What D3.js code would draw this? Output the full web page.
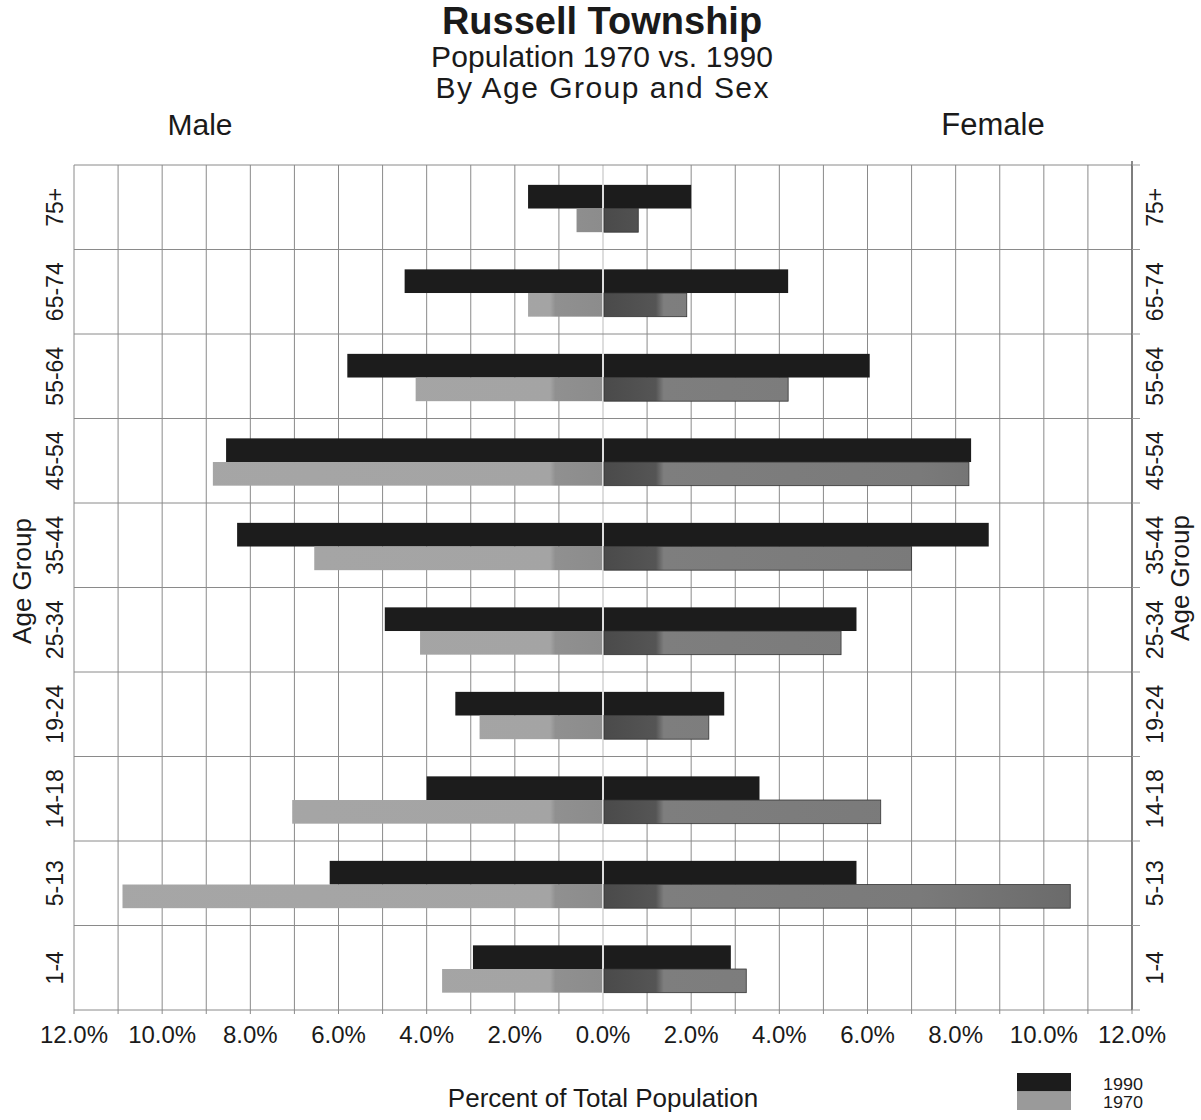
<!DOCTYPE html>
<html>
<head>
<meta charset="utf-8">
<script src="https://cdn.jsdelivr.net/npm/d3@7"></script>
<style>
  body { margin: 0; background: #fff; }
  text { font-family: "Liberation Sans", Arial, sans-serif; fill: #1a1a1a; }
</style>
</head>
<body>
<div id="chart"></div>
<script>
// age groups, top to bottom
var ages = ["75+", "65-74", "55-64", "45-54", "35-44", "25-34", "19-24", "14-18", "5-13", "1-4"];
// percent of total population
var male1990   = [1.7, 4.5, 5.8, 8.55, 8.3, 4.95, 3.35, 4.0, 6.2, 2.95];
var female1990 = [2.0, 4.2, 6.05, 8.35, 8.75, 5.75, 2.75, 3.55, 5.75, 2.9];
var male1970   = [0.6, 1.7, 4.25, 8.85, 6.55, 4.15, 2.8, 7.05, 10.9, 3.65];
var female1970 = [0.8, 1.9, 4.2, 8.3, 7.0, 5.4, 2.4, 6.3, 10.6, 3.25];
var tickValues = [-12, -10, -8, -6, -4, -2, 0, 2, 4, 6, 8, 10, 12];
var years = ["1990", "1970"];

var width = 1201, height = 1120;
var plot = {left: 74, right: 1132, top: 165, bottom: 1010};

var svg = d3.select("#chart").append("svg")
  .attr("width", width)
  .attr("height", height);

var x = d3.scaleLinear().domain([-12, 12]).range([plot.left, plot.right]);
var y = d3.scaleBand().domain(ages).range([plot.top, plot.bottom]);
// the two bars sit in the middle of each band
var sub = d3.scaleBand().domain(years).range([y.bandwidth() * 0.235, y.bandwidth() * 0.795]);

// halftone-ish fills for the 1970 bars (darker near the centre line)
var defs = svg.append("defs");
function grad(id, x1, x2, stops) {
  var g = defs.append("linearGradient")
    .attr("id", id)
    .attr("gradientUnits", "userSpaceOnUse")
    .attr("x1", x1).attr("x2", x2).attr("y1", 0).attr("y2", 0);
  stops.forEach(function(s) {
    g.append("stop").attr("offset", s[0]).attr("stop-color", s[1]);
  });
}
grad("m70", x(0), x(-12), [[0, "#8c8c8c"], [0.09, "#909090"], [0.1, "#a4a4a4"], [1, "#a6a6a6"]]);
grad("f70", x(0), x(12), [[0, "#4a4a4a"], [0.1, "#555"], [0.115, "#7e7e7e"], [0.6, "#7a7a7a"], [0.9, "#6a6a6a"], [1, "#5a5a5a"]]);

// grid
var grid = svg.append("g").attr("class", "grid");
grid.selectAll("line.v")
  .data(d3.range(-12, 13))
  .enter().append("line")
  .attr("class", "v")
  .attr("x1", function(d) { return x(d); })
  .attr("x2", function(d) { return x(d); })
  .attr("y1", plot.top)
  .attr("y2", function(d) { return plot.bottom + 4; })
  .attr("stroke", function(d) { return d === 0 ? "#bbb" : "#8a8a8a"; })
  .attr("stroke-width", 1);

grid.selectAll("line.h")
  .data(ages.map(function(a) { return y(a); }).concat([plot.bottom]))
  .enter().append("line")
  .attr("class", "h")
  .attr("x1", plot.left)
  .attr("x2", plot.right)
  .attr("y1", function(d) { return d; })
  .attr("y2", function(d) { return d; })
  .attr("stroke", "#8a8a8a")
  .attr("stroke-width", 1);

// right edge and its little ticks
svg.append("line")
  .attr("x1", plot.right).attr("x2", plot.right)
  .attr("y1", plot.top - 4).attr("y2", plot.bottom)
  .attr("stroke", "#666").attr("stroke-width", 1.5);
svg.selectAll("line.rt")
  .data(ages.map(function(a) { return y(a); }).concat([plot.bottom]))
  .enter().append("line")
  .attr("class", "rt")
  .attr("x1", plot.right).attr("x2", plot.right + 8)
  .attr("y1", function(d) { return d; })
  .attr("y2", function(d) { return d; })
  .attr("stroke", "#999");

// bars
var bars = svg.append("g").attr("class", "bars");
var series = [
  {vals: male1990, year: "1990", side: -1, fill: "#1c1c1c", stroke: "none"},
  {vals: female1990, year: "1990", side: 1, fill: "#1c1c1c", stroke: "none"},
  {vals: male1970, year: "1970", side: -1, fill: "url(#m70)", stroke: "none"},
  {vals: female1970, year: "1970", side: 1, fill: "url(#f70)", stroke: "#333"}
];
series.forEach(function(s) {
  bars.selectAll(null)
    .data(s.vals)
    .enter().append("rect")
    .attr("x", function(d) { return s.side < 0 ? x(-d) : x(0) + 1; })
    .attr("width", function(d) { return s.side < 0 ? x(0) - 1 - x(-d) : x(d) - x(0) - 1; })
    .attr("y", function(d, i) { return y(ages[i]) + sub(s.year); })
    .attr("height", sub.bandwidth())
    .attr("fill", s.fill)
    .attr("stroke", s.stroke)
    .attr("stroke-width", 0.8);
});

// x tick labels
svg.append("g").selectAll("text")
  .data(tickValues)
  .enter().append("text")
  .attr("x", function(d) { return x(d); })
  .attr("y", 1043)
  .attr("text-anchor", "middle")
  .attr("font-size", 24)
  .text(function(d) { return Math.abs(d).toFixed(1) + "%"; });

// age labels, both sides, rotated
[63, 1163].forEach(function(bx) {
  svg.append("g").selectAll("text")
    .data(ages)
    .enter().append("text")
    .attr("transform", function(d) {
      return "translate(" + bx + "," + (y(d) + y.bandwidth() / 2) + ") rotate(-90)";
    })
    .attr("text-anchor", "middle")
    .attr("font-size", 23)
    .text(function(d) { return d; });
});

// axis titles
svg.append("text")
  .attr("transform", "translate(31,581) rotate(-90)")
  .attr("text-anchor", "middle")
  .attr("font-size", 26)
  .text("Age Group");
svg.append("text")
  .attr("transform", "translate(1189,578) rotate(-90)")
  .attr("text-anchor", "middle")
  .attr("font-size", 26)
  .text("Age Group");

svg.append("text")
  .attr("x", 603).attr("y", 1107)
  .attr("text-anchor", "middle")
  .attr("font-size", 26)
  .text("Percent of Total Population");

// titles
svg.append("text")
  .attr("x", 602).attr("y", 34)
  .attr("text-anchor", "middle")
  .attr("font-size", 38)
  .attr("font-weight", "bold")
  .text("Russell Township");
svg.append("text")
  .attr("x", 602).attr("y", 67)
  .attr("text-anchor", "middle")
  .attr("font-size", 30)
  .attr("textLength", 342)
  .attr("lengthAdjust", "spacing")
  .text("Population 1970 vs. 1990");
svg.append("text")
  .attr("x", 602).attr("y", 98)
  .attr("text-anchor", "middle")
  .attr("font-size", 30)
  .attr("textLength", 333)
  .attr("lengthAdjust", "spacing")
  .text("By Age Group and Sex");

svg.append("text")
  .attr("x", 200).attr("y", 135)
  .attr("text-anchor", "middle")
  .attr("font-size", 30)
  .text("Male");
svg.append("text")
  .attr("x", 993).attr("y", 135)
  .attr("text-anchor", "middle")
  .attr("font-size", 31)
  .text("Female");

// legend
var legend = svg.append("g").attr("class", "legend");
var legendFill = {"1990": "#1c1c1c", "1970": "#9a9a9a"};
legend.selectAll("rect")
  .data(years)
  .enter().append("rect")
  .attr("x", 1017)
  .attr("y", function(d, i) { return 1073 + i * 18.5; })
  .attr("width", 54)
  .attr("height", 18.5)
  .attr("fill", function(d) { return legendFill[d]; });
legend.selectAll("text")
  .data(years)
  .enter().append("text")
  .attr("x", 1103)
  .attr("y", function(d, i) { return 1090 + i * 18; })
  .attr("font-size", 16)
  .attr("textLength", 40)
  .attr("lengthAdjust", "spacingAndGlyphs")
  .text(function(d) { return d; });
</script>
</body>
</html>
